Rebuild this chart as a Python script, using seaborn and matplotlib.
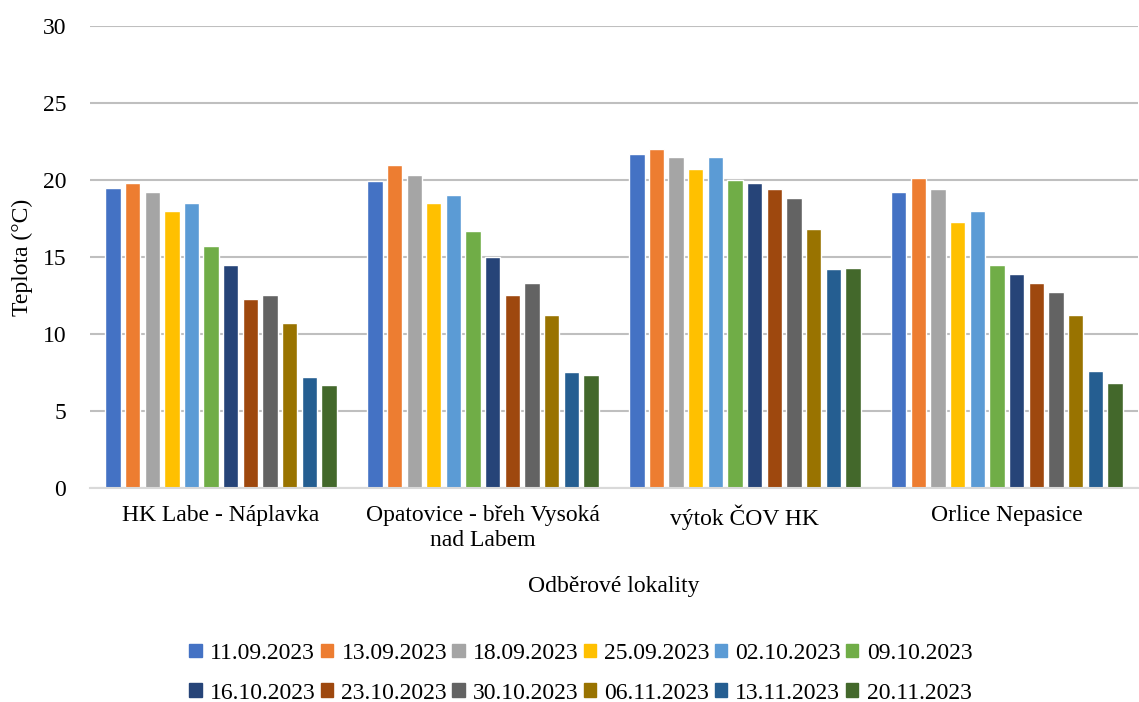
import pandas as pd
import numpy as np
import matplotlib.pyplot as plt
import seaborn as sns

# Data
lokality = ['HK Labe - Náplavka', 'Opatovice - břeh Vysoká\nnad Labem',
            'výtok ČOV HK', 'Orlice Nepasice']
data_odberu = ['11.09.2023', '13.09.2023', '18.09.2023', '25.09.2023',
               '02.10.2023', '09.10.2023', '16.10.2023', '23.10.2023',
               '30.10.2023', '06.11.2023', '13.11.2023', '20.11.2023']
hk_labe = [19.5, 19.8, 19.2, 18.0, 18.5, 15.7, 14.5, 12.3, 12.5, 10.7, 7.2, 6.7]
opatovice = [19.9, 21.0, 20.3, 18.5, 19.0, 16.7, 15.0, 12.5, 13.3, 11.2, 7.5, 7.3]
vytok_cov = [21.7, 22.0, 21.5, 20.7, 21.5, 20.0, 19.8, 19.4, 18.8, 16.8, 14.2, 14.3]
orlice = [19.2, 20.1, 19.4, 17.3, 18.0, 14.5, 13.9, 13.3, 12.7, 11.2, 7.6, 6.8]

barvy = ['#4472C4', '#ED7D31', '#A5A5A5', '#FFC000', '#5B9BD5', '#70AD47',
         '#264478', '#9E480E', '#636363', '#997300', '#255E91', '#43682B']

# Long table for seaborn
rows = []
for lok, hodnoty in zip(lokality, [hk_labe, opatovice, vytok_cov, orlice]):
    for datum, t in zip(data_odberu, hodnoty):
        rows.append({'lokalita': lok, 'datum': datum, 'teplota': t})
df = pd.DataFrame(rows)

sns.set_style('white')
plt.rcParams['font.family'] = ['Liberation Serif', 'DejaVu Serif']
plt.rcParams['text.color'] = 'black'
plt.rcParams['axes.labelcolor'] = 'black'
fs = 17

fig = plt.figure(figsize=(11.39, 7.02), dpi=100)
ax = fig.add_axes([0.079, 0.305, 0.92, 0.658])

sns.barplot(data=df, x='lokalita', y='teplota', hue='datum', order=lokality,
            hue_order=data_odberu, palette=barvy, width=0.9, gap=0.22,
            saturation=1, errorbar=None, ax=ax)

ax.set_ylim(0, 30)
ax.set_yticks(np.arange(0, 31, 5))
ax.yaxis.grid(True, color='#bfbfbf', linewidth=1.5)
ax.set_axisbelow(True)
for s in ['top', 'right', 'left']:
    ax.spines[s].set_visible(False)
ax.spines['bottom'].set_color('#d9d9d9')
ax.spines['bottom'].set_linewidth(1.5)
ax.tick_params(axis='both', length=0, labelsize=fs, colors='black')
ax.tick_params(axis='x', pad=12)
ax.tick_params(axis='y', pad=17)
for lbl in ax.get_xticklabels():
    lbl.set_linespacing(1.3)

ax.set_ylabel('Teplota (°C)', fontsize=fs, labelpad=7)
ax.set_xlabel('Odběrové lokality', fontsize=fs, labelpad=18)

# legend filled row by row (matplotlib fills columns first)
ax.get_legend().remove()
handles = [plt.Rectangle((0, 0), 1, 1, color=c) for c in barvy]
poradi = [j * 6 + i for i in range(6) for j in range(2)]
fig.legend([handles[k] for k in poradi], [data_odberu[k] for k in poradi],
           loc='center', bbox_to_anchor=(0.51, 0.041),
           ncol=6, frameon=False, fontsize=fs, handlelength=0.52,
           handleheight=0.52, handletextpad=0.35, columnspacing=0.22,
           labelspacing=0.8)

fig.savefig('out.png', dpi=100)
